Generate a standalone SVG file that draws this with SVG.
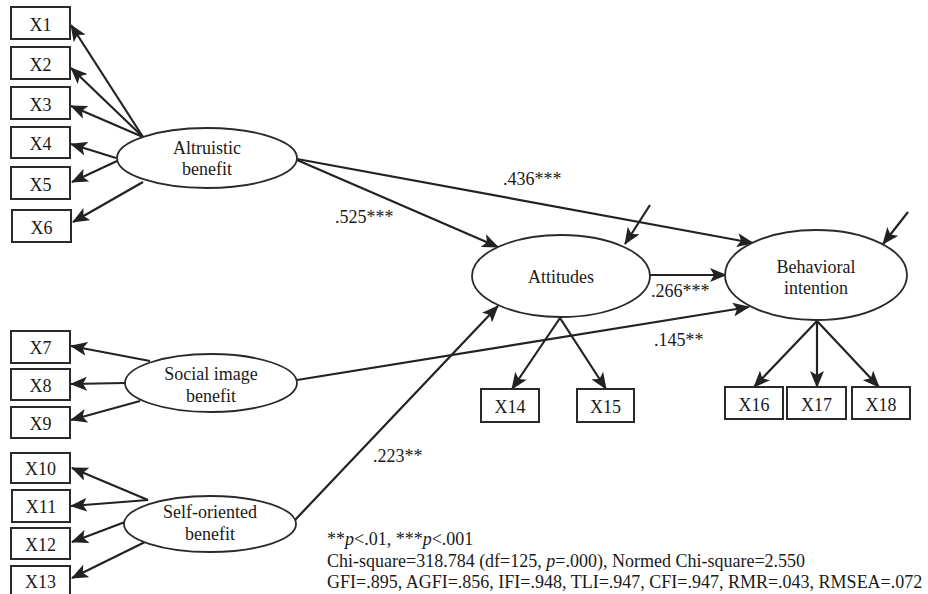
<svg xmlns="http://www.w3.org/2000/svg" width="928" height="594" viewBox="0 0 928 594">
<style>
text{font-family:"Liberation Serif","Times New Roman",serif;font-size:18px;fill:#1a1a1a}
.box{fill:#fff;stroke:#2a2a2a;stroke-width:2}
.lat{fill:#fff;stroke:#2a2a2a;stroke-width:1.8}
.c text{text-anchor:middle}
.ln{stroke:#222;stroke-width:2.2;fill:none;marker-end:url(#ah)}
</style>
<defs>
<marker id="ah" markerUnits="userSpaceOnUse" markerWidth="17" markerHeight="14" viewBox="0 0 17 14" refX="16" refY="7" orient="auto">
<path d="M0,0 L17,7 L0,14 L4,7 z" fill="#222"/>
</marker>
</defs>
<rect width="928" height="594" fill="#fff"/>
<g id="connectors">
<line class="ln" x1="143" y1="137" x2="71" y2="25"/>
<line class="ln" x1="143" y1="137" x2="71" y2="68"/>
<line class="ln" x1="143" y1="137" x2="71" y2="106"/>
<line class="ln" x1="116" y1="158" x2="71" y2="144"/>
<line class="ln" x1="117" y1="161" x2="72" y2="182"/>
<line class="ln" x1="143" y1="182" x2="73" y2="222"/>
<line class="ln" x1="150" y1="361" x2="71" y2="346"/>
<line class="ln" x1="125" y1="383" x2="71" y2="384"/>
<line class="ln" x1="140" y1="401" x2="71" y2="420"/>
<line class="ln" x1="148" y1="500" x2="72" y2="468"/>
<line class="ln" x1="148" y1="500" x2="71" y2="506"/>
<line class="ln" x1="125" y1="522" x2="72" y2="542"/>
<line class="ln" x1="145" y1="542" x2="72" y2="578"/>
<line class="ln" x1="297" y1="160" x2="498" y2="247"/>
<line class="ln" x1="297" y1="159" x2="753" y2="243"/>
<line class="ln" x1="650" y1="275" x2="726" y2="275"/>
<line class="ln" x1="297" y1="380" x2="749" y2="307"/>
<line class="ln" x1="295" y1="520" x2="498" y2="306"/>
<line class="ln" x1="560" y1="318" x2="512" y2="389"/>
<line class="ln" x1="560" y1="318" x2="606" y2="389"/>
<line class="ln" x1="817" y1="321" x2="754" y2="387"/>
<line class="ln" x1="817" y1="321" x2="817" y2="387"/>
<line class="ln" x1="817" y1="321" x2="879" y2="387"/>
<line class="ln" x1="650" y1="205" x2="625" y2="244"/>
<line class="ln" x1="908" y1="212" x2="883" y2="244"/>
</g>
<g id="labels">
<text x="503" y="185">.436***</text>
<text x="335" y="223">.525***</text>
<text x="651" y="297">.266***</text>
<text x="654" y="346">.145**</text>
<text x="373" y="462">.223**</text>
</g>
<g class="c">
<g id="X1"><rect class="box" x="11" y="7" width="59" height="32"/><text x="40.5" y="31">X1</text></g>
<g id="X2"><rect class="box" x="11" y="47" width="59" height="32"/><text x="40.5" y="71">X2</text></g>
<g id="X3"><rect class="box" x="11" y="87" width="59" height="32"/><text x="40.5" y="111">X3</text></g>
<g id="X4"><rect class="box" x="11" y="127" width="59" height="31"/><text x="40.5" y="150">X4</text></g>
<g id="X5"><rect class="box" x="11" y="167" width="59" height="32"/><text x="40.5" y="191">X5</text></g>
<g id="X6"><rect class="box" x="12" y="210" width="59" height="32"/><text x="41.5" y="234">X6</text></g>
<g id="X7"><rect class="box" x="11" y="331" width="59" height="32"/><text x="40.5" y="354">X7</text></g>
<g id="X8"><rect class="box" x="11" y="369" width="59" height="31"/><text x="40.5" y="392">X8</text></g>
<g id="X9"><rect class="box" x="11" y="407" width="59" height="31"/><text x="40.5" y="430">X9</text></g>
<g id="X10"><rect class="box" x="11" y="453" width="59" height="30"/><text x="40.5" y="475">X10</text></g>
<g id="X11"><rect class="box" x="12" y="490" width="58" height="32"/><text x="41" y="513">X11</text></g>
<g id="X12"><rect class="box" x="11" y="528" width="59" height="31"/><text x="40.5" y="551">X12</text></g>
<g id="X13"><rect class="box" x="11" y="566" width="59" height="34"/><text x="40.5" y="588">X13</text></g>
<g id="X14"><rect class="box" x="481" y="389" width="58" height="33"/><text x="510" y="413">X14</text></g>
<g id="X15"><rect class="box" x="577" y="389" width="57" height="33"/><text x="605.5" y="413">X15</text></g>
<g id="X16"><rect class="box" x="725" y="387" width="58" height="32"/><text x="754" y="411">X16</text></g>
<g id="X17"><rect class="box" x="787" y="387" width="59" height="32"/><text x="816.5" y="411">X17</text></g>
<g id="X18"><rect class="box" x="852" y="387" width="58" height="32"/><text x="881" y="411">X18</text></g>
<g id="altruistic"><ellipse class="lat" cx="207" cy="158" rx="90" ry="30"/><text x="207" y="154">Altruistic</text><text x="207" y="175">benefit</text></g>
<g id="social"><ellipse class="lat" cx="211" cy="383" rx="86" ry="29"/><text x="211" y="380">Social image</text><text x="211" y="402">benefit</text></g>
<g id="self"><ellipse class="lat" cx="210" cy="524" rx="86" ry="28"/><text x="210" y="518">Self-oriented</text><text x="210" y="540">benefit</text></g>
<g id="attitudes"><ellipse class="lat" cx="561" cy="276" rx="89" ry="41"/><text x="561" y="283">Attitudes</text></g>
<g id="behavioral"><ellipse class="lat" cx="816" cy="275" rx="91" ry="45"/><text x="816" y="273">Behavioral</text><text x="816" y="294">intention</text></g>
</g>
<g id="footer">
<text x="327" y="545">**<tspan font-style="italic">p</tspan>&lt;.01, ***<tspan font-style="italic">p</tspan>&lt;.001</text>
<text x="327" y="567">Chi-square=318.784 (df=125, <tspan font-style="italic">p</tspan>=.000), Normed Chi-square=2.550</text>
<text x="327" y="588">GFI=.895, AGFI=.856, IFI=.948, TLI=.947, CFI=.947, RMR=.043, RMSEA=.072</text>
</g>
</svg>
